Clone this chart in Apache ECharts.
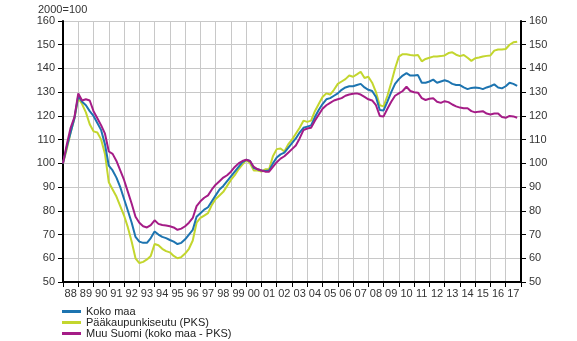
<!DOCTYPE html>
<html><head><meta charset="utf-8">
<script src="https://cdn.jsdelivr.net/npm/echarts@6/dist/echarts.min.js"></script>
<style>html,body{margin:0;padding:0;background:#fff}#c{width:577px;height:341px}</style>
</head><body><div id="c"></div>
<script>
var yearLabels = ['88','89','90','91','92','93','94','95','96','97','98','99','00','01','02','03','04','05','06','07','08','09','10','11','12','13','14','15','16','17'];
var seriesNames = ['Koko maa', 'Pääkaupunkiseutu (PKS)', 'Muu Suomi (koko maa - PKS)'];
// quarterly values 1988Q1 .. 2017Q4
var kokoMaa = [
 100,107,113,119, 128.5,126,124.5,122, 120,117,114,108, 99,97,94,90,
 85,80,75,69, 67,66.5,66.5,68.5, 71.3,70,69,68.5, 67.7,67,66,66.5,
 68,70,72,77.5, 79,80.5,81.5,84, 86.5,89,90.5,92.5, 94.5,96.5,98.5,100.5,
 101.5,101,98,97.5, 97,96.8,97,100, 102.5,103.8,104.5,106.5, 108.5,110.5,113,115,
 115.5,116,119.5,122.5, 125,127,127.5,128.5, 129.5,131,132,132.5, 132.5,133,133.5,132,
 131,130.5,128,122.5, 122.3,126,130,133.5, 135.5,137,138,137, 137,137.2,134,134,
 134.5,135.3,134,134.5, 135,134.5,133.5,133, 133,132,131.3,131.8, 132,131.8,131.3,132,
 132.5,133.3,132,131.6, 132.5,134,133.5,132.7
];
var pks = [
 100,106,113,119, 127.5,125,121.5,116.5, 113.5,113,110,104, 92,89,86,82,
 78,73,67,60, 58,58.5,59.5,61, 66,65.5,64,63, 62.5,61,60,60.5,
 62,64,67.5,75, 77,78,79,82.5, 85,86.5,88,90.5, 93,95,97.5,99.5,
 101.5,100,97,97, 96.5,97.5,97.5,103, 106,106.3,105,108, 110,112.5,115,118,
 117.5,118,122,125, 128,129.5,129,131, 133.5,134.5,135.5,137, 136.5,137.5,138.6,136,
 136.5,134,130,124.5, 124,128.5,134,140, 145,146,146,145.7, 145.5,145.7,143,144,
 144.5,145,145,145.2, 145.5,146.5,146.8,145.8, 145.2,145.7,144.5,143.2, 144.3,144.6,145,145.3,
 145.5,147.5,148,148, 148.2,150,151,151.3
];
var muuSuomi = [
 100,108,115,119.5, 129.5,126.5,127,126.5, 122,119,116,112.5, 105,104,101,97,
 93,88,83,77.5, 75,73.5,73,74, 76,74.5,74,73.8, 73.5,73,72,72.5,
 73.5,75,77,82, 84,85.5,86.5,89, 91,92.5,94,95, 96.5,98.5,100,101,
 101.5,101,98.5,97.5, 97,96.5,96.5,98.5, 100.5,102,103,104.5, 106,107.5,110.5,114,
 114.7,115,118,120.5, 123,124.5,125.5,126.5, 127,127.5,128.5,129, 129.3,129.5,129,128,
 127,126.5,124.5,120, 119.8,123,126,128.5, 129.5,130.5,132.3,130.5, 130,129.8,127.5,126.7,
 127.2,127.4,126,125.5, 126.2,125.8,124.8,124, 123.5,123.2,123.2,122, 121.5,121.8,122,121,
 120.6,121,121,119.5, 119.2,120,119.8,119.2
];
var colors = ['#1d74b0', '#c3d62e', '#a51c87'];

function toPts(arr){ return arr.map(function(v,i){ return [i, v]; }); }

var chart = echarts.init(document.getElementById('c'), null, {renderer:'canvas'});
var axisFont = {fontFamily:'Liberation Sans, Arial, sans-serif', fontSize:11, color:'#333'};
var yCommon = {
  type:'value', min:50, max:160, interval:10,
  axisLine:{show:true, lineStyle:{color:'#000', width:2}},
  axisTick:{show:true, length:5, lineStyle:{color:'#000', width:1}},
  axisLabel:Object.assign({margin:8}, axisFont)
};
chart.setOption({
  animation:false,
  color: colors,
  grid:{left:63, right:56, top:21, bottom:59},
  graphic:[{type:'text', left:38, top:4, style:{text:'2000=100', font:'11px Liberation Sans, Arial, sans-serif', fill:'#333'}}],
  xAxis:[
    {type:'value', min:0, max:120, show:false},
    {type:'category', data:yearLabels, boundaryGap:true, position:'bottom',
     axisLine:{show:true, lineStyle:{color:'#000', width:2}},
     axisTick:{show:true, interval:0, length:5, lineStyle:{color:'#000'}},
     axisLabel:Object.assign({interval:0, margin:6}, axisFont),
     splitLine:{show:true, interval:0, lineStyle:{color:'#c8c8c8', width:1}}}
  ],
  yAxis:[
    Object.assign({position:'left', splitLine:{show:true, lineStyle:{color:'#c8c8c8', width:1}}}, yCommon),
    Object.assign({position:'right', splitLine:{show:false}}, yCommon)
  ],
  legend:{
    orient:'vertical', left:62, top:306, height:60, padding:0, itemWidth:19, itemHeight:3, itemGap:0, icon:'rect',
    textStyle:{fontFamily:'Liberation Sans, Arial, sans-serif', fontSize:11, color:'#222', lineHeight:11},
    data: seriesNames
  },
  series:[
    {name:seriesNames[0], type:'line', xAxisIndex:0, yAxisIndex:0, data:toPts(kokoMaa), showSymbol:false, lineStyle:{width:2}, z:3},
    {name:seriesNames[1], type:'line', xAxisIndex:0, yAxisIndex:0, data:toPts(pks), showSymbol:false, lineStyle:{width:2}, z:2},
    {name:seriesNames[2], type:'line', xAxisIndex:0, yAxisIndex:0, data:toPts(muuSuomi), showSymbol:false, lineStyle:{width:2}, z:4}
  ]
});
</script></body></html>
